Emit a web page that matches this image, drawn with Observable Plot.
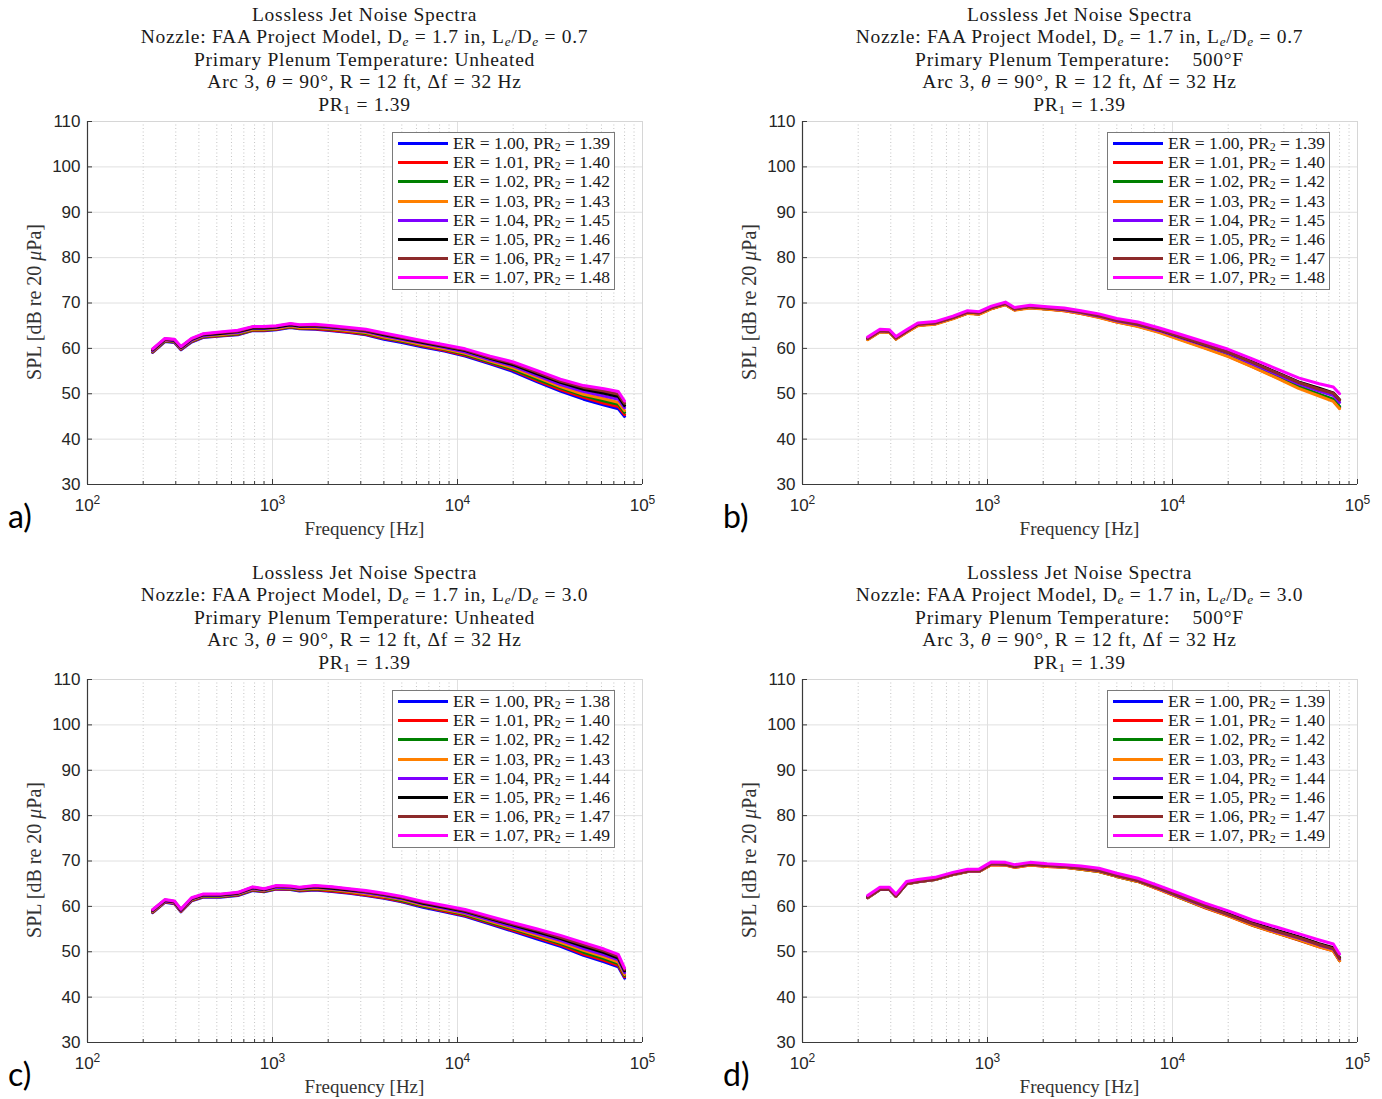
<!DOCTYPE html>
<html><head><meta charset="utf-8">
<script src="https://cdn.jsdelivr.net/npm/d3@7"></script>
<script src="https://cdn.jsdelivr.net/npm/@observablehq/plot@0.6"></script>
<style>
body{margin:0;background:#fff;}
#root{position:relative;width:1382px;height:1099px;overflow:hidden;background:#fff;}
.panel{position:absolute;width:700px;height:545px;}
.panel svg{position:absolute;left:0;top:0;overflow:visible;}
.tline{position:absolute;left:87px;width:555px;text-align:center;font-family:"Liberation Serif",serif;font-size:19.5px;letter-spacing:0.72px;line-height:21px;height:21px;color:#1a1a1a;white-space:nowrap;}
.ylab{position:absolute;left:34px;top:302px;transform:translate(-50%,-50%) rotate(-90deg);font-family:"Liberation Serif",serif;font-size:20px;white-space:nowrap;color:#333;}
.xlab{position:absolute;left:364.5px;top:529px;transform:translate(-50%,-50%);font-family:"Liberation Serif",serif;font-size:19px;white-space:nowrap;color:#333;}
.legend{position:absolute;left:392px;top:132px;width:223px;height:158px;box-sizing:border-box;border:1px solid #7a7a7a;background:#fff;}
.legend .row{position:absolute;left:0;height:19px;width:100%;}
.legend .sw{position:absolute;left:5px;top:8px;width:50px;height:3px;}
.legend .tx{position:absolute;left:60px;top:0px;font-family:"Liberation Serif",serif;font-size:17.5px;line-height:19px;color:#1a1a1a;white-space:nowrap;}
.plabel{position:absolute;left:8px;top:515px;transform:translateY(-50%);font-family:Lato,"Open Sans",sans-serif;font-size:32px;color:#000;}
sub{font-size:68%;vertical-align:-0.2em;line-height:0;}
</style>
</head><body><div id="root"></div>
<script>
// ---- data ----
const freqHz = [225, 262, 295, 320, 365, 420, 520, 650, 780, 900, 1050, 1250, 1400, 1700, 2100, 2600, 3200, 4000, 5000, 6500, 8500, 11000, 15000, 20000, 27000, 36000, 48000, 62000, 74000, 80000];

const erValues = ["1.00", "1.01", "1.02", "1.03", "1.04", "1.05", "1.06", "1.07"];
const pr2A = ["1.39", "1.40", "1.42", "1.43", "1.45", "1.46", "1.47", "1.48"];
const pr2B = ["1.39", "1.40", "1.42", "1.43", "1.45", "1.46", "1.47", "1.48"];
const pr2C = ["1.38", "1.40", "1.42", "1.43", "1.44", "1.46", "1.47", "1.49"];
const pr2D = ["1.39", "1.40", "1.42", "1.43", "1.44", "1.46", "1.47", "1.49"];
const lineColors = ["#0000ff", "#ff0000", "#008000", "#ff8000", "#7f00ff", "#000000", "#8c2a2a", "#ff00ff"];

// Panel a) L/D 0.7, unheated
const splA = [
  [59.1, 61.5, 61.3, 59.7, 61.4, 62.4, 62.7, 63.0, 63.9, 63.9, 64.1, 64.6, 64.3, 64.2, 63.9, 63.5, 63.0, 62.0, 61.3, 60.3, 59.4, 58.3, 56.6, 54.9, 52.6, 50.6, 48.8, 47.5, 46.7, 45.0],
  [59.2, 61.6, 61.4, 59.8, 61.5, 62.5, 62.8, 63.1, 64.0, 64.0, 64.2, 64.7, 64.4, 64.3, 64.0, 63.6, 63.1, 62.2, 61.5, 60.5, 59.6, 58.5, 56.8, 55.2, 52.9, 50.9, 49.2, 47.9, 47.2, 45.4],
  [59.3, 61.7, 61.5, 59.9, 61.6, 62.6, 62.9, 63.2, 64.1, 64.1, 64.3, 64.8, 64.5, 64.5, 64.2, 63.8, 63.3, 62.4, 61.6, 60.7, 59.8, 58.7, 57.0, 55.4, 53.2, 51.3, 49.6, 48.4, 47.7, 45.9],
  [59.4, 61.8, 61.6, 60.0, 61.7, 62.7, 63.0, 63.4, 64.2, 64.2, 64.4, 64.9, 64.6, 64.6, 64.3, 63.9, 63.5, 62.5, 61.8, 60.8, 59.9, 58.9, 57.2, 55.7, 53.6, 51.6, 49.9, 48.9, 48.1, 46.3],
  [59.5, 61.9, 61.7, 60.1, 61.8, 62.8, 63.2, 63.5, 64.4, 64.4, 64.6, 65.1, 64.8, 64.8, 64.5, 64.1, 63.7, 62.8, 62.0, 61.1, 60.2, 59.2, 57.5, 56.1, 54.0, 52.0, 50.5, 49.5, 48.8, 46.9],
  [59.7, 62.0, 61.8, 60.2, 62.0, 63.0, 63.3, 63.7, 64.5, 64.5, 64.7, 65.2, 64.9, 65.0, 64.7, 64.3, 63.9, 63.0, 62.2, 61.3, 60.4, 59.5, 57.8, 56.4, 54.4, 52.5, 51.0, 50.1, 49.4, 47.4],
  [59.8, 62.1, 61.9, 60.3, 62.1, 63.1, 63.5, 63.8, 64.7, 64.7, 64.9, 65.4, 65.1, 65.1, 64.8, 64.4, 64.0, 63.2, 62.4, 61.5, 60.6, 59.7, 58.0, 56.7, 54.7, 52.8, 51.4, 50.6, 49.9, 47.9],
  [59.9, 62.2, 62.0, 60.4, 62.2, 63.2, 63.6, 64.0, 64.8, 64.8, 65.0, 65.5, 65.2, 65.3, 65.0, 64.6, 64.2, 63.4, 62.6, 61.7, 60.8, 59.9, 58.3, 57.0, 55.1, 53.2, 51.8, 51.1, 50.5, 48.4]
];
// Panel b) L/D 0.7, 500 F
const splB = [
  [62.0, 63.7, 63.6, 62.1, 63.6, 65.1, 65.4, 66.6, 67.8, 67.6, 68.8, 69.7, 68.5, 69.0, 68.7, 68.4, 67.8, 66.9, 65.9, 64.9, 63.6, 62.1, 60.2, 58.4, 56.1, 53.8, 51.5, 49.8, 48.6, 47.1],
  [62.0, 63.7, 63.6, 62.1, 63.6, 65.1, 65.4, 66.6, 67.8, 67.6, 68.8, 69.7, 68.5, 69.0, 68.7, 68.3, 67.7, 66.9, 65.8, 64.9, 63.6, 62.0, 60.1, 58.3, 56.0, 53.7, 51.4, 49.7, 48.5, 46.9],
  [62.0, 63.7, 63.6, 62.1, 63.6, 65.1, 65.4, 66.6, 67.8, 67.6, 68.8, 69.7, 68.5, 69.0, 68.7, 68.4, 67.8, 67.0, 65.9, 65.0, 63.7, 62.1, 60.2, 58.5, 56.2, 53.9, 51.6, 49.9, 48.8, 47.2],
  [61.9, 63.6, 63.5, 62.0, 63.5, 65.0, 65.3, 66.5, 67.7, 67.5, 68.7, 69.6, 68.4, 68.9, 68.6, 68.3, 67.7, 66.8, 65.8, 64.8, 63.5, 61.9, 60.0, 58.2, 55.9, 53.6, 51.2, 49.5, 48.3, 46.7],
  [62.2, 63.9, 63.8, 62.3, 63.8, 65.3, 65.6, 66.8, 68.0, 67.8, 69.0, 69.9, 68.7, 69.2, 68.9, 68.5, 67.9, 67.1, 66.1, 65.2, 63.9, 62.4, 60.6, 58.9, 56.6, 54.4, 52.2, 50.6, 49.6, 48.1],
  [62.3, 64.0, 63.9, 62.4, 63.9, 65.4, 65.7, 66.9, 68.1, 67.9, 69.1, 70.0, 68.8, 69.3, 69.0, 68.7, 68.1, 67.3, 66.3, 65.4, 64.1, 62.6, 60.8, 59.2, 57.0, 54.8, 52.6, 51.2, 50.2, 48.7],
  [62.2, 63.9, 63.8, 62.3, 63.8, 65.3, 65.6, 66.8, 68.0, 67.8, 69.0, 69.9, 68.7, 69.2, 68.9, 68.6, 68.0, 67.2, 66.2, 65.3, 64.1, 62.6, 60.8, 59.1, 56.9, 54.7, 52.5, 51.0, 50.1, 48.6],
  [62.5, 64.2, 64.1, 62.6, 64.1, 65.6, 65.9, 67.1, 68.3, 68.1, 69.3, 70.2, 69.0, 69.5, 69.2, 68.9, 68.3, 67.6, 66.6, 65.8, 64.5, 63.1, 61.4, 59.8, 57.7, 55.6, 53.5, 52.2, 51.5, 50.0]
];
// Panel c) L/D 3.0, unheated
const splC = [
  [58.6, 60.9, 60.6, 58.8, 61.2, 62.0, 62.0, 62.4, 63.5, 63.2, 63.8, 63.7, 63.4, 63.6, 63.3, 62.9, 62.4, 61.8, 61.0, 59.8, 58.8, 57.8, 56.1, 54.5, 52.8, 51.2, 49.2, 47.8, 46.7, 44.2],
  [58.7, 61.0, 60.7, 58.9, 61.3, 62.1, 62.1, 62.5, 63.6, 63.3, 63.9, 63.8, 63.5, 63.7, 63.4, 63.0, 62.5, 61.9, 61.1, 60.0, 59.0, 58.0, 56.3, 54.7, 53.1, 51.5, 49.5, 48.1, 47.0, 44.5],
  [58.8, 61.1, 60.8, 59.0, 61.4, 62.2, 62.2, 62.6, 63.7, 63.4, 64.0, 63.9, 63.6, 63.9, 63.6, 63.2, 62.7, 62.1, 61.3, 60.1, 59.2, 58.2, 56.5, 55.0, 53.4, 51.8, 49.9, 48.5, 47.4, 44.8],
  [58.9, 61.1, 60.8, 59.0, 61.5, 62.3, 62.3, 62.7, 63.8, 63.5, 64.1, 64.0, 63.7, 64.0, 63.7, 63.3, 62.8, 62.2, 61.5, 60.3, 59.3, 58.4, 56.7, 55.2, 53.6, 52.1, 50.3, 48.9, 47.7, 45.0],
  [59.0, 61.2, 60.9, 59.1, 61.6, 62.4, 62.4, 62.8, 63.9, 63.6, 64.2, 64.1, 63.8, 64.2, 63.9, 63.5, 63.0, 62.4, 61.7, 60.5, 59.6, 58.6, 57.0, 55.5, 54.0, 52.5, 50.7, 49.3, 48.2, 45.4],
  [59.1, 61.3, 61.0, 59.2, 61.7, 62.5, 62.5, 62.9, 64.1, 63.7, 64.4, 64.3, 64.0, 64.3, 64.0, 63.6, 63.2, 62.6, 61.9, 60.7, 59.8, 58.9, 57.3, 55.9, 54.4, 52.9, 51.2, 49.8, 48.6, 45.8],
  [59.2, 61.4, 61.1, 59.3, 61.8, 62.6, 62.6, 63.0, 64.2, 63.8, 64.5, 64.4, 64.1, 64.5, 64.2, 63.8, 63.3, 62.7, 62.0, 60.9, 60.0, 59.1, 57.5, 56.1, 54.7, 53.2, 51.6, 50.2, 49.0, 46.1],
  [59.3, 61.5, 61.2, 59.4, 61.9, 62.7, 62.7, 63.1, 64.3, 63.9, 64.6, 64.5, 64.2, 64.6, 64.3, 63.9, 63.5, 62.9, 62.2, 61.1, 60.2, 59.3, 57.8, 56.4, 55.0, 53.6, 52.0, 50.6, 49.4, 46.4]
];
// Panel d) L/D 3.0, 500 F
const splD = [
  [61.9, 63.7, 63.7, 62.2, 65.0, 65.4, 65.9, 67.0, 67.7, 67.7, 69.3, 69.2, 68.7, 69.2, 68.9, 68.7, 68.3, 67.8, 66.7, 65.6, 63.8, 62.0, 59.9, 58.0, 56.0, 54.3, 52.8, 51.3, 50.4, 48.2],
  [61.9, 63.7, 63.7, 62.2, 65.0, 65.4, 65.9, 67.0, 67.7, 67.7, 69.2, 69.1, 68.6, 69.1, 68.8, 68.6, 68.2, 67.7, 66.6, 65.5, 63.7, 61.9, 59.7, 57.9, 55.8, 54.2, 52.6, 51.1, 50.2, 48.0],
  [61.9, 63.7, 63.7, 62.2, 65.0, 65.4, 65.9, 67.0, 67.7, 67.7, 69.3, 69.2, 68.7, 69.2, 68.9, 68.7, 68.2, 67.7, 66.6, 65.5, 63.8, 61.9, 59.8, 58.0, 55.9, 54.3, 52.7, 51.2, 50.3, 48.1],
  [61.9, 63.7, 63.7, 62.2, 65.0, 65.4, 65.9, 67.0, 67.7, 67.7, 69.2, 69.1, 68.6, 69.1, 68.8, 68.6, 68.2, 67.7, 66.6, 65.5, 63.7, 61.9, 59.8, 57.9, 55.9, 54.2, 52.7, 51.1, 50.2, 48.0],
  [62.0, 63.8, 63.8, 62.3, 65.1, 65.5, 66.0, 67.1, 67.8, 67.8, 69.4, 69.3, 68.8, 69.3, 69.0, 68.8, 68.4, 67.9, 66.8, 65.7, 63.9, 62.1, 60.0, 58.2, 56.2, 54.5, 53.0, 51.5, 50.6, 48.4],
  [62.1, 63.9, 63.9, 62.4, 65.2, 65.6, 66.1, 67.2, 67.9, 67.9, 69.5, 69.4, 68.9, 69.4, 69.1, 68.9, 68.5, 68.0, 66.9, 65.8, 64.1, 62.3, 60.2, 58.4, 56.4, 54.8, 53.3, 51.8, 50.9, 48.7],
  [62.0, 63.8, 63.8, 62.3, 65.1, 65.5, 66.0, 67.1, 67.8, 67.8, 69.4, 69.3, 68.8, 69.3, 69.0, 68.8, 68.4, 67.9, 66.8, 65.7, 64.0, 62.2, 60.1, 58.2, 56.2, 54.6, 53.1, 51.6, 50.7, 48.5],
  [62.4, 64.2, 64.2, 62.7, 65.5, 65.9, 66.4, 67.5, 68.2, 68.2, 69.8, 69.7, 69.2, 69.7, 69.4, 69.2, 68.9, 68.4, 67.3, 66.2, 64.5, 62.8, 60.7, 59.0, 57.0, 55.5, 54.0, 52.6, 51.7, 49.5]
];

// axis ticks and texts
const yTicks = [30, 40, 50, 60, 70, 80, 90, 100, 110];
const xDecades = [100, 1000, 10000, 100000];
const xMinor = [200, 300, 400, 500, 600, 700, 800, 900, 2000, 3000, 4000, 5000, 6000, 7000, 8000, 9000, 20000, 30000, 40000, 50000, 60000, 70000, 80000, 90000];
const panelTags = ["a)", "b)", "c)", "d)"];
const lengthRatio = ["0.7", "0.7", "3.0", "3.0"];
const plenumTemp = ["Unheated", "&nbsp;&nbsp;&nbsp;500°F", "Unheated", "&nbsp;&nbsp;&nbsp;500°F"];
const pr1Value = "1.39";

// ---- drawing ----
const axisInk = "#3a3a3a";
const panels = [
  {spl: splA, pr2: pr2A, left: 0, top: 0},
  {spl: splB, pr2: pr2B, left: 715, top: 0},
  {spl: splC, pr2: pr2C, left: 0, top: 558},
  {spl: splD, pr2: pr2D, left: 715, top: 558}
];
const root = document.getElementById("root");

panels.forEach((p, k) => {
  const div = document.createElement("div");
  div.className = "panel";
  div.style.left = p.left + "px";
  div.style.top = p.top + "px";
  root.appendChild(div);

  const lines = p.spl.map((vals, i) =>
    Plot.line(freqHz.map((f, j) => ({f, v: vals[j]})), {
      x: "f", y: "v", stroke: lineColors[i], strokeWidth: 3, strokeLinejoin: "round"
    })
  );

  const chart = Plot.plot({
    width: 700, height: 545,
    marginLeft: 87, marginRight: 58, marginTop: 121, marginBottom: 61,
    style: {background: "transparent", fontFamily: "'Liberation Sans', Arial, sans-serif", fontSize: "17px", overflow: "visible"},
    x: {type: "log", domain: [100, 100000], label: null},
    y: {domain: [30, 110], label: null},
    marks: [
      Plot.ruleX(xMinor, {stroke: "#c4c4c4", strokeDasharray: "1,2.5", strokeWidth: 1}),
      Plot.ruleX([1000, 10000], {stroke: "#e0e0e0", strokeWidth: 1}),
      Plot.ruleY(yTicks.filter(t => t > 30 && t < 110), {stroke: "#e0e0e0", strokeWidth: 1}),
      Plot.ruleY([110], {stroke: "#d6d6d6"}),
      Plot.ruleX([100000], {stroke: "#d6d6d6"}),
      ...lines,
      Plot.ruleX([100], {stroke: axisInk, strokeWidth: 1.2}),
      Plot.ruleY([30], {stroke: axisInk, strokeWidth: 1.2}),
      Plot.axisY(yTicks, {tickSize: -5, tickFormat: () => "", color: axisInk, label: null}),
      Plot.axisY(yTicks, {tickSize: 0, tickPadding: 7, color: "#262626", label: null}),
      Plot.axisX(xDecades, {tickSize: -5, tickFormat: () => "", color: axisInk, label: null}),
      Plot.axisX(xMinor, {tickSize: -3, tickFormat: () => "", color: axisInk, label: null}),
      Plot.axisX(xDecades, {tickSize: 0, tickPadding: 14, color: "#262626", label: null,
        tickFormat: d => "10^" + Math.round(Math.log10(d))})
    ]
  });
  // turn "10^n" tick labels into 10 with a raised exponent
  d3.select(chart).selectAll("text").each(function() {
    const s = this.textContent;
    if (/^10\^\d$/.test(s)) {
      const e = s.slice(3);
      const t = d3.select(this);
      t.text(null);
      t.append("tspan").text("10");
      t.append("tspan").attr("dy", "-0.55em").attr("font-size", "12px").text(e);
    }
  });
  div.appendChild(chart);

  const titleLines = [
    "Lossless Jet Noise Spectra",
    `Nozzle: FAA Project Model, D<sub><i>e</i></sub> = 1.7 in, L<sub><i>e</i></sub>/D<sub><i>e</i></sub> = ${lengthRatio[k]}`,
    `Primary Plenum Temperature: ${plenumTemp[k]}`,
    "Arc 3, <i>θ</i> = 90°, R = 12 ft, Δf = 32 Hz",
    `PR<sub>1</sub> = ${pr1Value}`
  ];
  titleLines.forEach((html, i) => {
    const t = document.createElement("div");
    t.className = "tline";
    t.style.top = (3.5 + 22.5 * i) + "px";
    t.innerHTML = html;
    div.appendChild(t);
  });

  const ylab = document.createElement("div");
  ylab.className = "ylab";
  ylab.innerHTML = "SPL [dB re 20 <i>μ</i>Pa]";
  div.appendChild(ylab);

  const xlab = document.createElement("div");
  xlab.className = "xlab";
  xlab.textContent = "Frequency [Hz]";
  div.appendChild(xlab);

  const legend = document.createElement("div");
  legend.className = "legend";
  erValues.forEach((er, i) => {
    const row = document.createElement("div");
    row.className = "row";
    row.style.top = (1 + 19.2 * i) + "px";
    row.innerHTML = `<span class="sw" style="background:${lineColors[i]}"></span><span class="tx">ER = ${er}, PR<sub>2</sub> = ${p.pr2[i]}</span>`;
    legend.appendChild(row);
  });
  div.appendChild(legend);

  const tag = document.createElement("div");
  tag.className = "plabel";
  tag.textContent = panelTags[k];
  div.appendChild(tag);
});
</script>
</body></html>
